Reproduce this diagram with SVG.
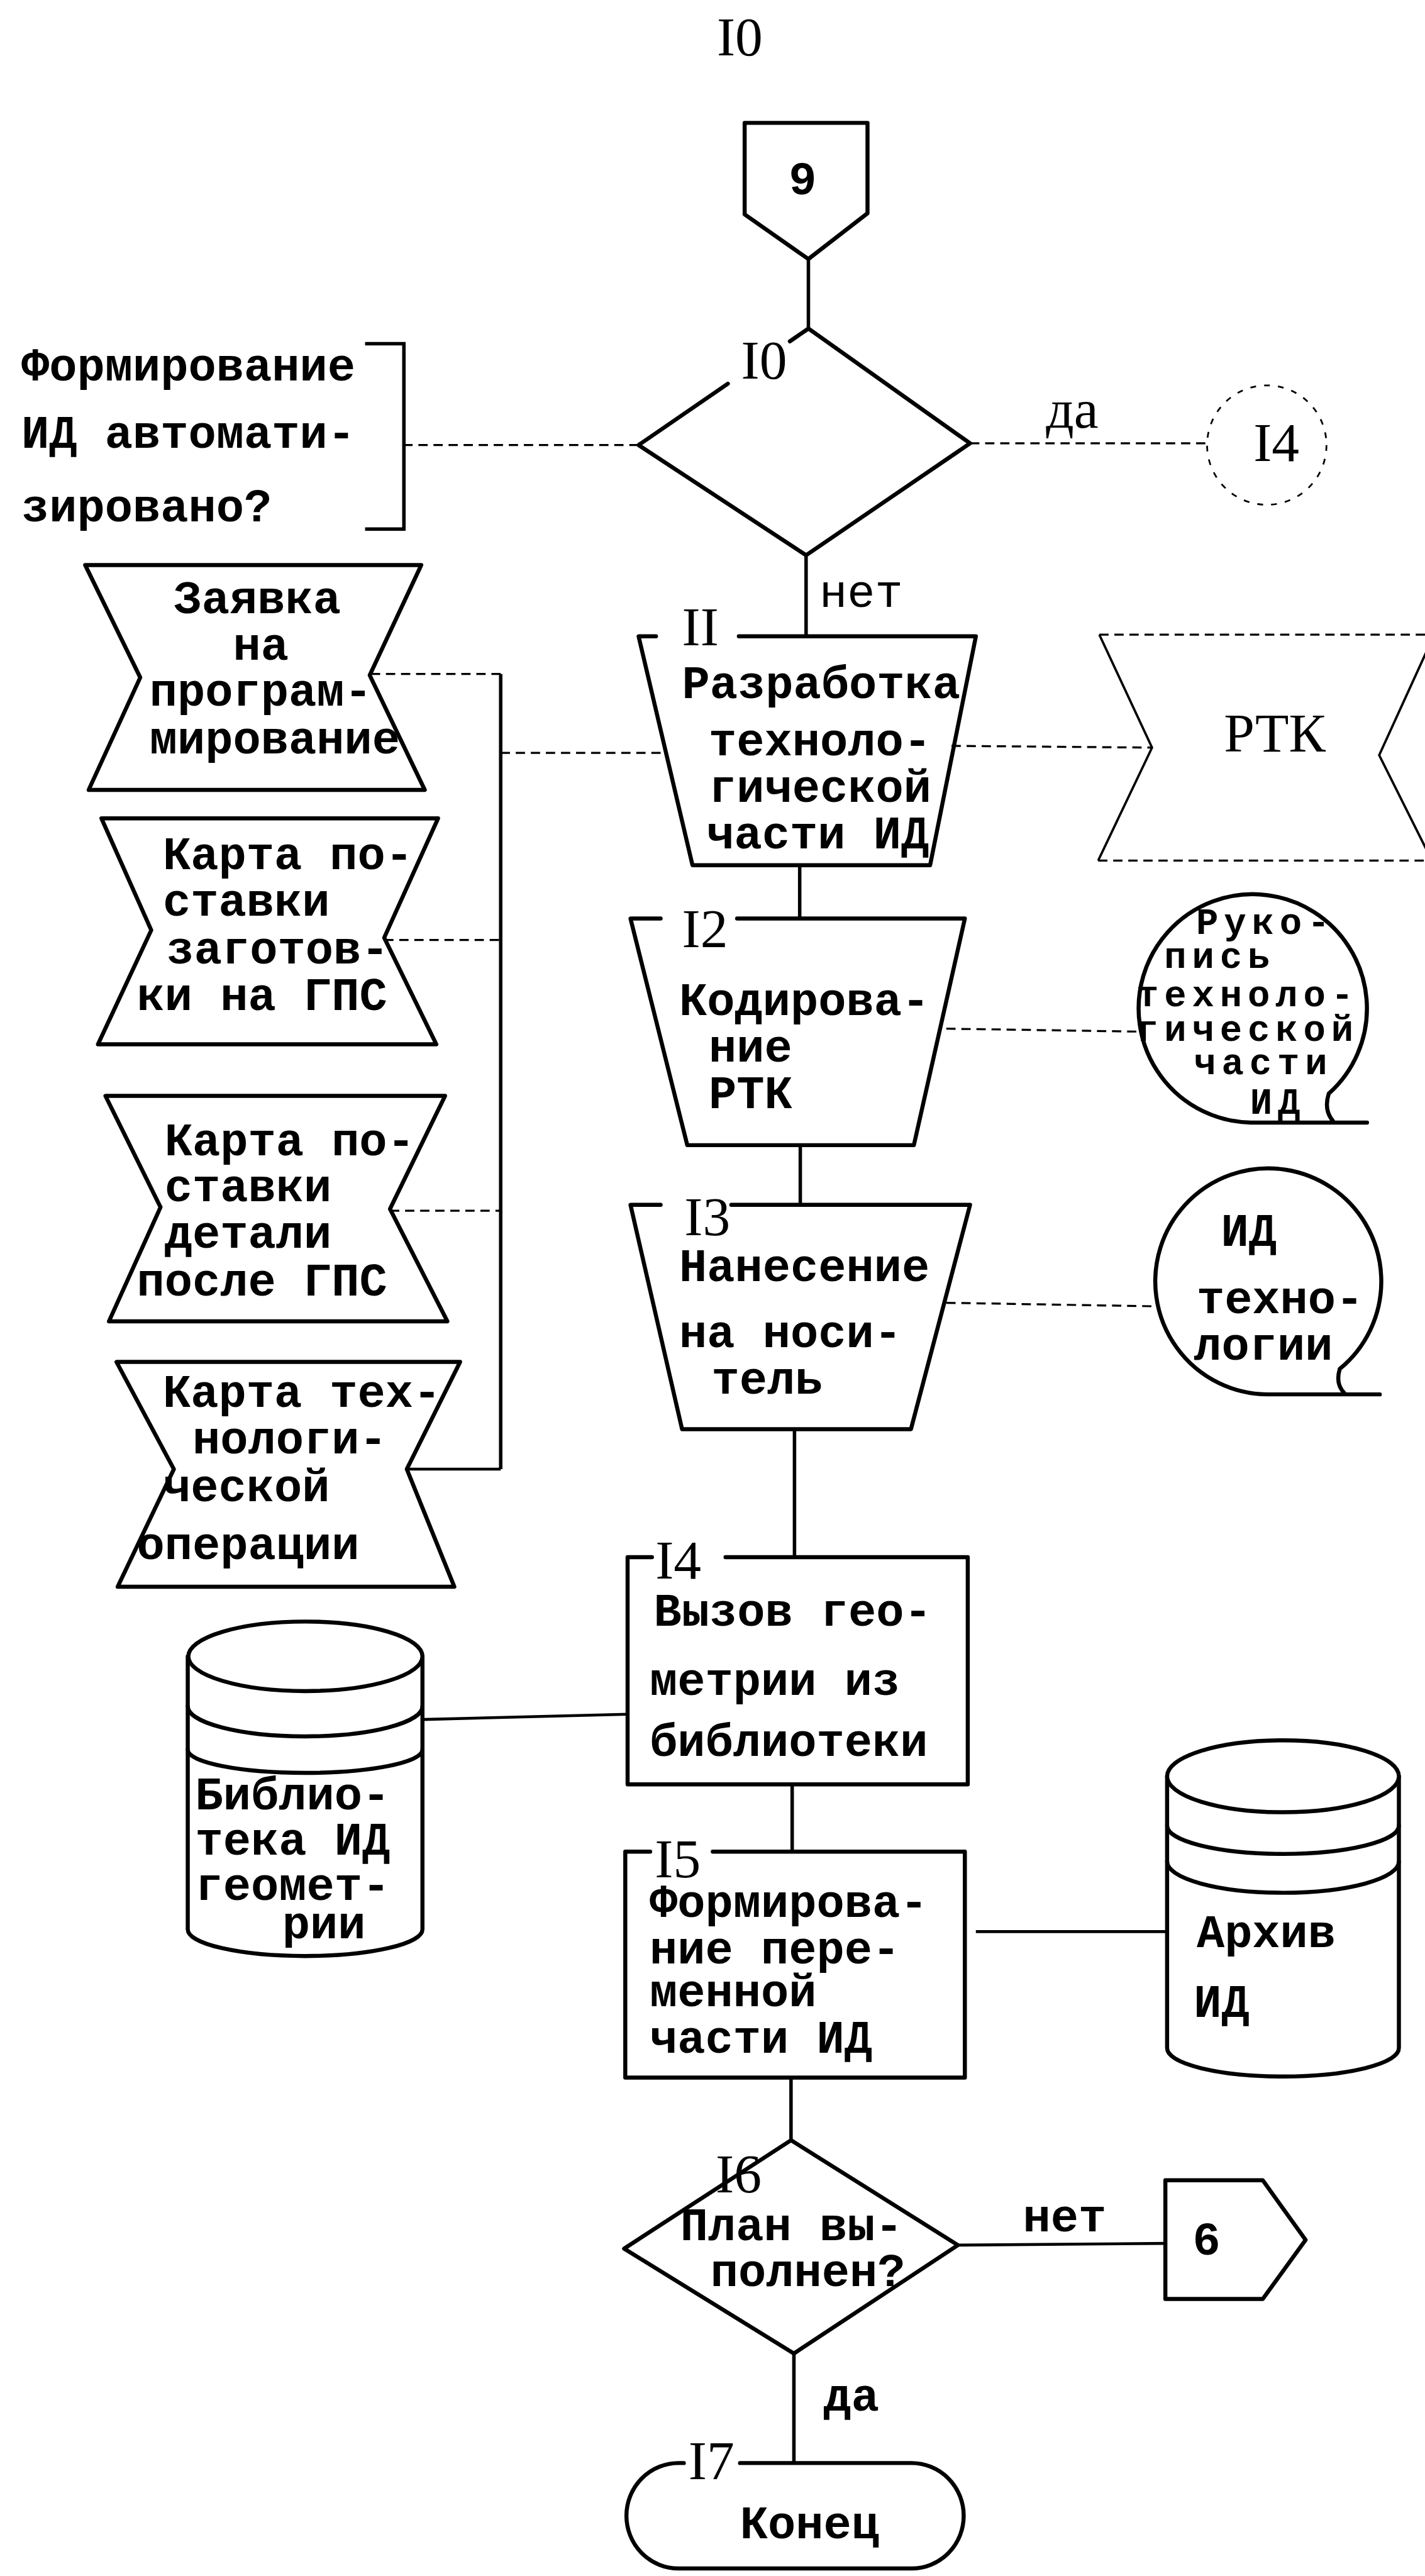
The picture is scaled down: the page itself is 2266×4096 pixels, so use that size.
<svg xmlns="http://www.w3.org/2000/svg" width="2266" height="4096" viewBox="0 0 2266 4096">
<style>
.s{fill:#fff;stroke:#000;stroke-width:7;stroke-linejoin:round;stroke-linecap:round}
.o{fill:none;stroke:#000;stroke-width:7;stroke-linejoin:round;stroke-linecap:round}
.thin{fill:none;stroke:#000;stroke-width:4}
.ln{fill:none;stroke:#000;stroke-width:6}
.sl{fill:none;stroke:#000;stroke-width:5}
.d{fill:none;stroke:#000;stroke-width:3.5;stroke-dasharray:16 10}
.df{fill:none;stroke:#000;stroke-width:3;stroke-dasharray:10 14}
.t{font-family:"Liberation Mono","DejaVu Sans Mono",monospace;font-weight:bold;font-size:80px;fill:#000}
.tc{font-family:"Liberation Mono","DejaVu Sans Mono",monospace;font-weight:bold;font-size:64px;letter-spacing:9.6px;fill:#000}
.tn{font-family:"Liberation Mono","DejaVu Sans Mono",monospace;font-size:80px;fill:#000}
.n{font-family:"Liberation Serif","DejaVu Serif",serif;font-size:95px;fill:#000}
</style>
<rect width="2266" height="4096" fill="#fff"/>
<g transform="scale(0.9215)">
<text class="n" x="1237" y="95" font-size="90">I0</text>

<g id="connectors">
<path class="ln" d="M1395,447 V567"/>
<path class="ln" d="M1391,958 V1098"/>
<path class="ln" d="M1380,1493 V1585"/>
<path class="ln" d="M1381,1976 V2079"/>
<path class="ln" d="M1371,2466 V2687"/>
<path class="ln" d="M1367,3079 V3195"/>
<path class="ln" d="M1365,3585 V3693"/>
<path class="ln" d="M1370,4061 V4250"/>
<path class="sl" d="M1653,3874 L2011,3871"/>
<path class="sl" d="M1684,3333 H2014"/>
<path class="sl" d="M729,2967 L1083,2958"/>
<path class="d" d="M1674,765 H2084"/>
<path class="d" d="M1102,768 H697"/>
<path class="d" d="M1642,1287 L1988,1290"/>
<path class="d" d="M1633,1775 L1962,1780"/>
<path class="d" d="M1633,2248 L1991,2254"/>
<path class="ln" d="M864,1163 V2535"/>
<path class="d" d="M640,1163 H864"/>
<path class="d" d="M864,1299 H1144"/>
<path class="d" d="M663,1622 H864"/>
<path class="d" d="M673,2089 H864"/>
<path class="sl" d="M702,2535 H864"/>
<text class="n" x="1805" y="738" font-size="62">да</text>
<text class="tn" x="1414" y="1047">нет</text>
<text class="t" x="1765" y="3850">нет</text>
<text class="t" x="1421" y="4160">да</text>
</g>

<g id="n9">
<path class="s" d="M1285,212 H1497 V368 L1395,447 L1285,370 Z"/>
<text class="t" x="1361" y="335" font-size="100">9</text>
</g>

<g id="note">
<path class="ln" d="M630,593 H697 V913 H630"/>
<text class="t" x="37" y="657">Формирование</text>
<text class="t" x="37" y="773">ИД автомати-</text>
<text class="t" x="37" y="900">зировано?</text>
</g>

<g id="n10">
<path class="o" d="M1256,662 L1102,768 L1391,958 L1674,765 L1395,567 L1363,589"/>
<text class="n" x="1279" y="653">I0</text>
</g>

<g id="c14">
<circle class="df" cx="2186" cy="768" r="103"/>
<text class="n" x="2163" y="795" font-size="90">I4</text>
</g>

<g id="s1">
<path class="s" d="M147,975 H727 L638,1165 L733,1363 H153 L242,1169 Z"/>
<text class="t" x="300" y="1058">Заявка</text>
<text class="t" x="402" y="1138">на</text>
<text class="t" x="258" y="1218">програм-</text>
<text class="t" x="258" y="1300">мирование</text>
</g>

<g id="s2">
<path class="s" d="M175,1412 H756 L663,1618 L753,1802 H169 L261,1605 Z"/>
<text class="t" x="281" y="1500">Карта по-</text>
<text class="t" x="281" y="1580">ставки</text>
<text class="t" x="287" y="1662">заготов-</text>
<text class="t" x="236" y="1743">ки на ГПС</text>
</g>

<g id="s3">
<path class="s" d="M182,1891 H768 L673,2086 L772,2280 H188 L277,2083 Z"/>
<text class="t" x="284" y="1993">Карта по-</text>
<text class="t" x="284" y="2073">ставки</text>
<text class="t" x="284" y="2153">детали</text>
<text class="t" x="236" y="2235">после ГПС</text>
</g>

<g id="s4">
<path class="s" d="M201,2350 H794 L702,2535 L784,2738 H203 L300,2535 Z"/>
<text class="t" x="281" y="2428">Карта тех-</text>
<text class="t" x="332" y="2508">нологи-</text>
<text class="t" x="281" y="2590">ческой</text>
<text class="t" x="236" y="2690">операции</text>
</g>

<g id="n11">
<path class="o" d="M1275,1098 H1684 L1605,1493 H1195 L1102,1098 H1132"/>
<text class="n" x="1177" y="1113">II</text>
<text class="t" x="1177" y="1205">Разработка</text>
<text class="t" x="1223" y="1303">техноло-</text>
<text class="t" x="1223" y="1384">гической</text>
<text class="t" x="1219" y="1464">части ИД</text>
</g>

<g id="rtk">
<path class="thin" d="M1897,1095 L1988,1290 L1895,1485"/>
<path class="thin" d="M2475,1095 L2380,1303 L2471,1485"/>
<path class="d" d="M1897,1095 H2475 M1895,1485 H2471"/>
<text class="n" x="2112" y="1297" font-size="78">РТК</text>
</g>

<g id="n12">
<path class="o" d="M1272,1585 H1665 L1577,1976 H1186 L1088,1585 H1140"/>
<text class="n" x="1177" y="1634">I2</text>
<text class="t" x="1172" y="1752">Кодирова-</text>
<text class="t" x="1223" y="1832">ние</text>
<text class="t" x="1223" y="1912">РТК</text>
</g>

<g id="manuscript">
<path class="o" d="M2293,1887 A197,197 0 1 0 2159,1937 H2359 M2293,1887 Q2284,1915 2300,1934"/>
<text class="tc" x="2064" y="1612">Руко-</text>
<text class="tc" x="2009" y="1670">пись</text>
<text class="tc" x="1961" y="1736">техноло-</text>
<text class="tc" x="1961" y="1796">гической</text>
<text class="tc" x="2060" y="1854">части</text>
<text class="tc" x="2157" y="1922">ИД</text>
</g>

<g id="n13">
<path class="o" d="M1262,2079 H1674 L1572,2466 H1177 L1088,2079 H1140"/>
<text class="n" x="1181" y="2131">I3</text>
<text class="t" x="1172" y="2210">Нанесение</text>
<text class="t" x="1172" y="2325">на носи-</text>
<text class="t" x="1228" y="2405">тель</text>
</g>

<g id="idtech">
<path class="o" d="M2312,2362 A195,195 0 1 0 2186,2406 H2381 M2312,2362 Q2304,2388 2320,2404"/>
<text class="t" x="2107" y="2150">ИД</text>
<text class="t" x="2065" y="2266">техно-</text>
<text class="t" x="2060" y="2346">логии</text>
</g>

<g id="library">
<path class="s" d="M324,2858 V3329 A202,46 0 0 0 729,3329 V2858"/>
<ellipse class="s" cx="527" cy="2858" rx="202" ry="60"/>
<path class="o" d="M324,2944 A202,52 0 0 0 729,2944 M324,3019 A202,40 0 0 0 729,3019"/>
<text class="t" x="337" y="3122">Библио-</text>
<text class="t" x="337" y="3200">тека ИД</text>
<text class="t" x="337" y="3278">геомет-</text>
<text class="t" x="487" y="3345">рии</text>
</g>

<g id="n14">
<path class="o" d="M1252,2687 H1670 V3079 H1083 V2687 H1125"/>
<text class="n" x="1131" y="2724">I4</text>
<text class="t" x="1128" y="2805">Вызов гео-</text>
<text class="t" x="1121" y="2925">метрии из</text>
<text class="t" x="1121" y="3030">библиотеки</text>
</g>

<g id="n15">
<path class="o" d="M1230,3195 H1665 V3585 H1079 V3195 H1122"/>
<text class="n" x="1130" y="3239">I5</text>
<text class="t" x="1121" y="3308">Формирова-</text>
<text class="t" x="1121" y="3388">ние пере-</text>
<text class="t" x="1121" y="3462">менной</text>
<text class="t" x="1121" y="3542">части ИД</text>
</g>

<g id="archive">
<path class="s" d="M2014,3065 V3534 A200,49 0 0 0 2414,3534 V3065"/>
<ellipse class="s" cx="2214" cy="3065" rx="200" ry="62"/>
<path class="o" d="M2014,3150 A200,49 0 0 0 2414,3150 M2014,3212 A200,54 0 0 0 2414,3212"/>
<text class="t" x="2065" y="3360">Архив</text>
<text class="t" x="2060" y="3480">ИД</text>
</g>

<g id="n16">
<path class="o" d="M1365,3693 L1653,3874 L1370,4061 L1077,3880 Z"/>
<text class="n" x="1235" y="3783">I6</text>
<text class="t" x="1174" y="3865">План вы-</text>
<text class="t" x="1226" y="3945">полнен?</text>
</g>

<g id="n6">
<path class="s" d="M2011,3762 H2179 L2253,3865 L2179,3967 H2011 Z"/>
<text class="t" x="2058" y="3890" font-size="100">6</text>
</g>

<g id="n17">
<path class="o" d="M1277,4250 H1573 A90,91 0 0 1 1663,4341 A90,91 0 0 1 1573,4432 H1171 A90,91 0 0 1 1081,4341 A90,91 0 0 1 1171,4250 H1180"/>
<text class="n" x="1188" y="4278">I7</text>
<text class="t" x="1277" y="4380">Конец</text>
</g>
</g>
</svg>
